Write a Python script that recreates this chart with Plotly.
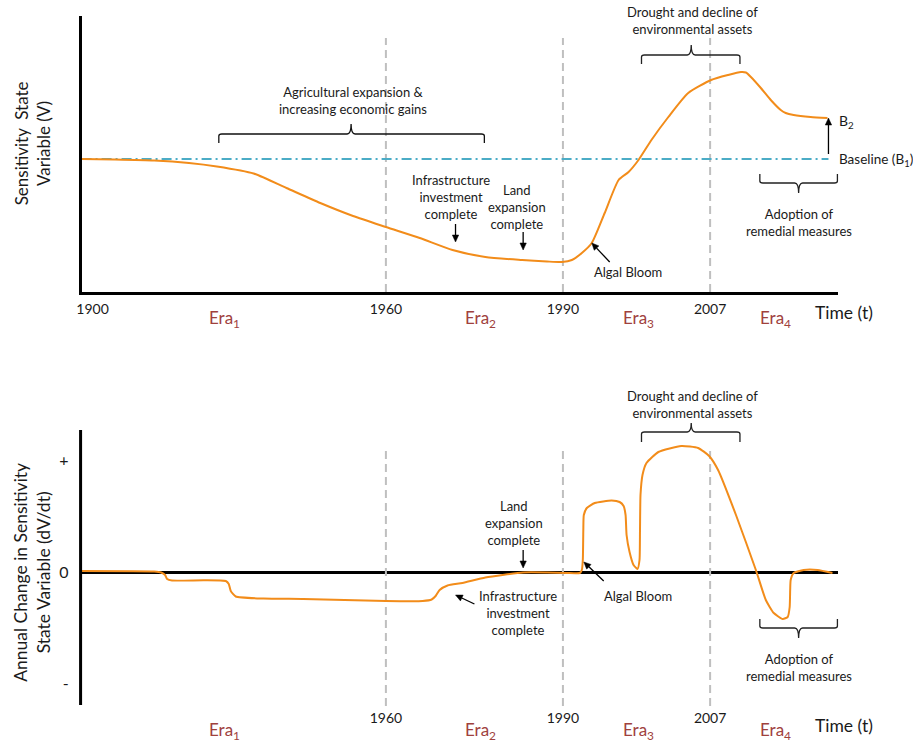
import math
import plotly.graph_objects as go

W, H = 913, 742
FONT = "Lato"

# ---------------- data ----------------
# conceptual time position (t) along the time axis and the sensitivity state variable (V)
t_state = [0, 33, 73, 108, 136, 173, 206, 240, 273, 306, 340, 373, 406, 443, 468, 483, 493, 503, 513, 526,
           540, 550, 560, 573, 590, 610, 633, 650, 663, 668, 673, 683, 693, 703, 708, 716, 733, 750]
v_state = [133, 132.5, 131.5, 129, 125.5, 118.5, 104, 89, 76, 65, 54, 42, 35, 32, 30.5, 30, 32, 39, 49, 79,
           112, 120, 132, 152, 175, 199, 212, 217, 220, 219.5, 215, 204, 192, 182, 179, 177, 175, 174]
baseline_t = [0, 751]
baseline_v = [133, 133]

# annual change in the state variable (dV/dt)
t_rate = [0, 73, 80, 84, 86, 91, 123, 145, 148, 150, 155, 183, 223, 306, 343, 352, 356, 360, 368, 383,
          406, 444, 468, 488, 501, 503, 504, 504.5, 505, 508, 516, 533, 541, 545, 547, 548, 551, 555, 559, 561,
          561.5, 562, 564, 568, 580, 603, 620, 631, 640, 658, 678, 688, 696, 705, 710, 712, 712.5, 713, 716, 726,
          740, 755]
dv_rate = [1, 0.5, -0.5, -3, -7, -8.5, -8.3, -9, -12, -19, -24.5, -26.5, -27, -29, -29, -27.5, -24, -18, -13.5, -11,
           -5.5, -0.5, -0.5, -1, -1, 2, 12, 42, 57, 64, 69, 71.5, 70, 66, 57, 37, 20, 7, 3, 12,
           42, 77, 97, 109, 120, 126, 124, 116, 102, 57, 2, -28, -41, -47, -45, -35, -18, -8, -1, 2,
           2, -1]

year_labels_top = ["1900", "1960", "1990", "2007"]
year_t_top = [11, 306, 484, 632]
year_labels_bottom = ["1960", "1990", "2007"]
year_t_bottom = [306, 484, 632]
divider_t = [306, 484, 632]

era_labels = ["Era<sub>1</sub>", "Era<sub>2</sub>", "Era<sub>3</sub>", "Era<sub>4</sub>"]
era_t = [144, 401, 560, 698]

rate_tick_vals = [112, 0, -111]
rate_tick_text = ["+", "0", "-"]

# ---------------- style ----------------
ORANGE = "#F28C1A"
TEAL = "#4BACC6"
GREY = "#BFBFBF"
ERA = "#A0413D"
INK = "#1a1a1a"


def px(x):
    return x / W


def py(y):
    return 1 - y / H


fig = go.Figure()

# vertical era dividers
for t in divider_t:
    fig.add_trace(go.Scatter(x=[t, t], y=[0, 254], mode="lines", xaxis="x", yaxis="y",
                             line=dict(color=GREY, width=2, dash="8px,5px"), hoverinfo="skip"))
    fig.add_trace(go.Scatter(x=[t, t], y=[121, -136], mode="lines", xaxis="x2", yaxis="y2",
                             line=dict(color=GREY, width=2, dash="8px,5px"), hoverinfo="skip"))

# baseline
fig.add_trace(go.Scatter(x=baseline_t, y=baseline_v, mode="lines", xaxis="x", yaxis="y",
                         line=dict(color=TEAL, width=1.8, dash="10px,4px,2px,4px"), hoverinfo="skip"))

# curves
fig.add_trace(go.Scatter(x=t_state, y=v_state, mode="lines", xaxis="x", yaxis="y",
                         line=dict(color=ORANGE, width=2, shape="spline", smoothing=0.6), hoverinfo="skip"))
fig.add_trace(go.Scatter(x=t_rate, y=dv_rate, mode="lines", xaxis="x2", yaxis="y2",
                         line=dict(color=ORANGE, width=2, shape="spline", smoothing=0.5), hoverinfo="skip"))

XD = [77 / W, 838 / W]
axis_common = dict(showgrid=False, fixedrange=True)
fig.update_layout(
    width=W, height=H,
    margin=dict(l=0, r=0, t=0, b=0),
    paper_bgcolor="white", plot_bgcolor="white",
    showlegend=False,
    font=dict(family=FONT, color=INK),
    xaxis=dict(domain=XD, range=[0, 761], anchor="y", showline=True, linewidth=3, linecolor="black",
               zeroline=False, tickmode="array", tickvals=year_t_top, ticktext=year_labels_top,
               ticks="", ticklabelstandoff=2, tickfont=dict(size=14, family=FONT, color=INK), **axis_common),
    yaxis=dict(domain=[py(292), py(16)], range=[0, 276], anchor="x", showline=True, linewidth=3,
               linecolor="black", zeroline=False, showticklabels=False, ticks="", **axis_common),
    xaxis2=dict(domain=XD, range=[0, 761], anchor="y2", showline=False, zeroline=False,
                tickmode="array", tickvals=year_t_bottom, ticktext=year_labels_bottom, ticks="",
                ticklabelstandoff=2, tickfont=dict(size=14, family=FONT, color=INK), **axis_common),
    yaxis2=dict(domain=[py(706), py(418)], range=[-134, 154], anchor="x2", showline=False,
                zeroline=True, zerolinewidth=3, zerolinecolor="black", tickmode="array",
                tickvals=rate_tick_vals, ticktext=rate_tick_text, ticks="", ticklabelstandoff=12,
                tickfont=dict(size=16, family=FONT, color=INK), **axis_common),
)

shapes = []
# bottom panel vertical axis line
shapes.append(dict(type="line", xref="paper", yref="y2", x0=px(76), x1=px(76), y0=-133, y1=142,
                   line=dict(color="black", width=3), layer="above"))


def brace(x0, x1, xm, yl, ye, yn, color="#222222"):
    s = 1 if ye > yl else -1
    pts = [
        f"M {px(x0)},{py(ye)}",
        f"L {px(x0)},{py(yl + 2 * s)}",
        f"Q {px(x0)},{py(yl)} {px(x0 + 3)},{py(yl)}",
        f"L {px(xm - 4)},{py(yl)}",
        f"Q {px(xm)},{py(yl)} {px(xm)},{py(yn)}",
        f"Q {px(xm)},{py(yl)} {px(xm + 4)},{py(yl)}",
        f"L {px(x1 - 3)},{py(yl)}",
        f"Q {px(x1)},{py(yl)} {px(x1)},{py(yl + 2 * s)}",
        f"L {px(x1)},{py(ye)}",
    ]
    return dict(type="path", xref="paper", yref="paper", path=" ".join(pts),
                line=dict(color=color, width=1.3), layer="above")


def arrow(hx, hy, tx, ty, L=7.0, hw=3.2):
    d = math.hypot(hx - tx, hy - ty)
    ux, uy = (hx - tx) / d, (hy - ty) / d
    bx, by = hx - ux * L, hy - uy * L
    nx, ny = -uy, ux
    line = dict(type="line", xref="paper", yref="paper", x0=px(tx), y0=py(ty), x1=px(bx), y1=py(by),
                line=dict(color="black", width=1.3), layer="above")
    head = dict(type="path", xref="paper", yref="paper",
                path=(f"M {px(hx)},{py(hy)} L {px(bx + nx * hw)},{py(by + ny * hw)} "
                      f"L {px(bx - nx * hw)},{py(by - ny * hw)} Z"),
                fillcolor="black", line=dict(color="black", width=0.5), layer="above")
    return [line, head]


shapes += [
    brace(215, 482, 348, 134, 143, 124, "#111111"),
    brace(640, 739, 690, 55, 64, 45),
    brace(759, 837, 798, 183, 174, 193),
    brace(640, 739, 690, 432, 442, 423),
    brace(759, 837, 798, 628, 619, 638),
]
shapes += arrow(453, 242, 453, 224)
shapes += arrow(521, 250, 521, 232)
shapes += arrow(590, 243, 608, 262)
shapes += arrow(828, 118, 828, 154)
shapes += arrow(521, 568, 521, 550)
shapes += arrow(453, 595, 472, 604)
shapes += arrow(582, 562, 602, 581)
fig.update_layout(shapes=shapes)

ann = []


def text(x, y, s, size=13, color=INK, xanchor="center", angle=0):
    ann.append(dict(x=px(x), y=py(y), xref="paper", yref="paper", text=s, showarrow=False,
                    xanchor=xanchor, yanchor="middle", textangle=angle,
                    font=dict(size=size, family=FONT, color=color)))


# top panel texts
text(28, 143.5, "Sensitivity  State<br>Variable (V)", size=17, angle=-90)
text(350, 100.5, "Agricultural expansion &<br>increasing economic gains")
text(691, 20, "Drought and decline of<br>environmental assets")
text(798, 222.5, "Adoption of<br>remedial measures")
text(448, 196.5, "Infrastructure<br>investment<br>complete")
text(515, 206.5, "Land<br>expansion<br>complete")
text(626, 272, "Algal Bloom")
text(837, 121, "B<sub>2</sub>", size=14, xanchor="left")
text(837, 160, "Baseline (B<sub>1</sub>)", size=13.5, xanchor="left")
text(843.5, 312, "Time (t)", size=17.5)

# bottom panel texts
text(27, 572, "Annual Change in Sensitivity<br>State Variable (dV/dt)", size=17.5, angle=-90)
text(691, 404, "Drought and decline of<br>environmental assets")
text(511.5, 523, "Land<br>expansion<br>complete")
text(516, 613, "Infrastructure<br>investment<br>complete")
text(636, 596, "Algal Bloom")
text(798, 667, "Adoption of<br>remedial measures")
text(843.5, 725, "Time (t)", size=17.5)

# era labels (placed along the time axis)
for lab, t in zip(era_labels, era_t):
    for xr, yy in (("x", 319), ("x2", 731)):
        ann.append(dict(x=t, y=py(yy), xref=xr, yref="paper", text=lab, showarrow=False,
                        xanchor="center", yanchor="middle",
                        font=dict(size=17, family=FONT, color=ERA)))

fig.update_layout(annotations=ann)
fig.write_html("out.html", config={"displayModeBar": False},
               post_script="document.body.style.margin='0';")
